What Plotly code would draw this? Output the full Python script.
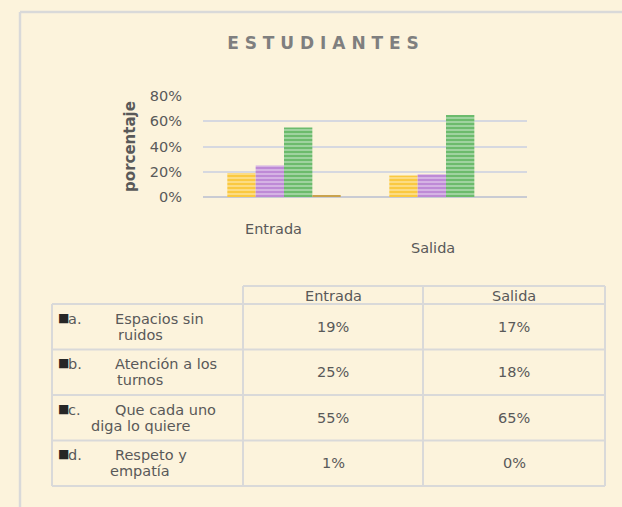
import plotly.graph_objects as go

categories = ["Entrada", "Salida"]
series_keys = ["a.", "b.", "c.", "d."]
series_line1 = ["Espacios sin", "Atención a los", "Que cada uno", "Respeto y"]
series_line2 = ["ruidos", "turnos", "diga lo quiere", "empatía"]
values_a = [0.19, 0.17]
values_b = [0.25, 0.18]
values_c = [0.55, 0.65]
values_d = [0.01, 0.00]
y_ticks = [0, 0.2, 0.4, 0.6, 0.8]
y_tick_text = ["0%", "20%", "40%", "60%", "80%"]

W, H = 622, 507
BG = "#FCF3DC"
GRAY = "#595959"
LINE = "#D9D9D9"
FONT = "DejaVu Sans"
FS = 14.5
colors = ["#FAC941", "#BE8AD6", "#6CBB6C", "#C9A24C"]

def px(x):
    return x / W

def py(y):
    return 1 - y / H

fig = go.Figure()
all_vals = [values_a, values_b, values_c, values_d]
for name, vals, col in zip(series_keys, all_vals, colors):
    fig.add_trace(go.Bar(
        x=categories, y=vals, name=name,
        marker=dict(color=col, line=dict(width=0),
                    pattern=dict(shape="-", fgcolor="white", size=4, solidity=0.35, fillmode="overlay")),
        showlegend=False, hoverinfo="skip",
    ))

# ---- data table drawn with shapes + annotations ----
tbl_left, tbl_c1, tbl_c2, tbl_right = 52, 243, 423, 605
hdr_top, hdr_bot = 286, 304
row_h = 45.5
row_edges = [hdr_bot + i * row_h for i in range(len(series_keys) + 1)]

shapes = []
def hline(x0, x1, y):
    shapes.append(dict(type="line", xref="paper", yref="paper", x0=px(x0), x1=px(x1),
                       y0=py(y), y1=py(y), line=dict(color=LINE, width=2)))
def vline(x, y0, y1):
    shapes.append(dict(type="line", xref="paper", yref="paper", x0=px(x), x1=px(x),
                       y0=py(y0), y1=py(y1), line=dict(color=LINE, width=2)))

hline(tbl_c1, tbl_right, hdr_top)
for y in row_edges:
    hline(tbl_left, tbl_right, y)
vline(tbl_left, hdr_bot, row_edges[-1])
for x in (tbl_c1, tbl_c2, tbl_right):
    vline(x, hdr_top, row_edges[-1])

# outer chart frame
shapes.append(dict(type="line", xref="paper", yref="paper", x0=px(20), x1=1.0, y0=py(12), y1=py(12),
                   line=dict(color=LINE, width=2.5)))
shapes.append(dict(type="line", xref="paper", yref="paper", x0=px(20), x1=px(20), y0=py(12), y1=0,
                   line=dict(color=LINE, width=2.5)))

ann = []
def text(x, y, t, xanchor="center", size=FS, color=GRAY):
    ann.append(dict(x=px(x), y=py(y), xref="paper", yref="paper", text=t, showarrow=False,
                    xanchor=xanchor, yanchor="middle", font=dict(family=FONT, size=size, color=color)))

col_centers = [(tbl_c1 + tbl_c2) / 2, (tbl_c2 + tbl_right) / 2]
for c, cx in zip(categories, col_centers):
    text(cx, (hdr_top + hdr_bot) / 2 + 1, c)

for i, (k, l1, l2, vals) in enumerate(zip(series_keys, series_line1, series_line2, all_vals)):
    yc = (row_edges[i] + row_edges[i + 1]) / 2
    text(56, yc - 9, "■", xanchor="left", size=12, color="#262626")
    text(66, yc - 8, k, xanchor="left")
    text(113, yc - 8, l1, xanchor="left")
    text(140, yc + 8, l2)
    for v, cx in zip(vals, col_centers):
        text(cx, yc, f"{round(v * 100)}%")

# category labels under the bars
ann.append(dict(x=categories[0], y=py(229), xref="x", yref="paper", text=categories[0], xshift=-11,
                showarrow=False, font=dict(family=FONT, size=FS, color=GRAY)))
ann.append(dict(x=categories[1], y=py(248), xref="x", yref="paper", text=categories[1], xshift=-13,
                showarrow=False, font=dict(family=FONT, size=FS, color=GRAY)))

fig.update_layout(
    width=W, height=H, autosize=False,
    margin=dict(l=0, r=0, t=0, b=0, pad=0, autoexpand=False),
    paper_bgcolor=BG, plot_bgcolor="rgba(0,0,0,0)",
    barmode="group", bargap=0.3, bargroupgap=0,
    font=dict(family=FONT, color=GRAY),
    title=dict(text="<b>E S T U D I A N T E S</b>", x=px(323), xanchor="center",
               y=py(43), yanchor="middle", automargin=False,
               font=dict(family=FONT, size=17, color="#7F7F7F")),
    xaxis=dict(domain=[px(203), px(527)], showticklabels=False, showgrid=False,
               zeroline=False, showline=False, automargin=False),
    yaxis=dict(domain=[py(197), py(96)], range=[0, 0.8], automargin=False,
               tickvals=y_ticks, ticktext=y_tick_text, ticklabelstandoff=20,
               tickfont=dict(family=FONT, size=FS, color=GRAY),
               showgrid=True, gridcolor="#D6D8E0", gridwidth=1.5,
               zeroline=True, zerolinecolor="#C9CBD3", zerolinewidth=2,
               title=dict(text="<b>porcentaje</b>", standoff=10,
                          font=dict(family=FONT, size=15, color=GRAY))),
    shapes=shapes,
    annotations=ann,
)

fig.write_html("out.html",
               config={"displayModeBar": False, "responsive": False},
               post_script="document.body.style.margin='0px';document.body.style.background='#FCF3DC';document.body.style.overflow='hidden';")
